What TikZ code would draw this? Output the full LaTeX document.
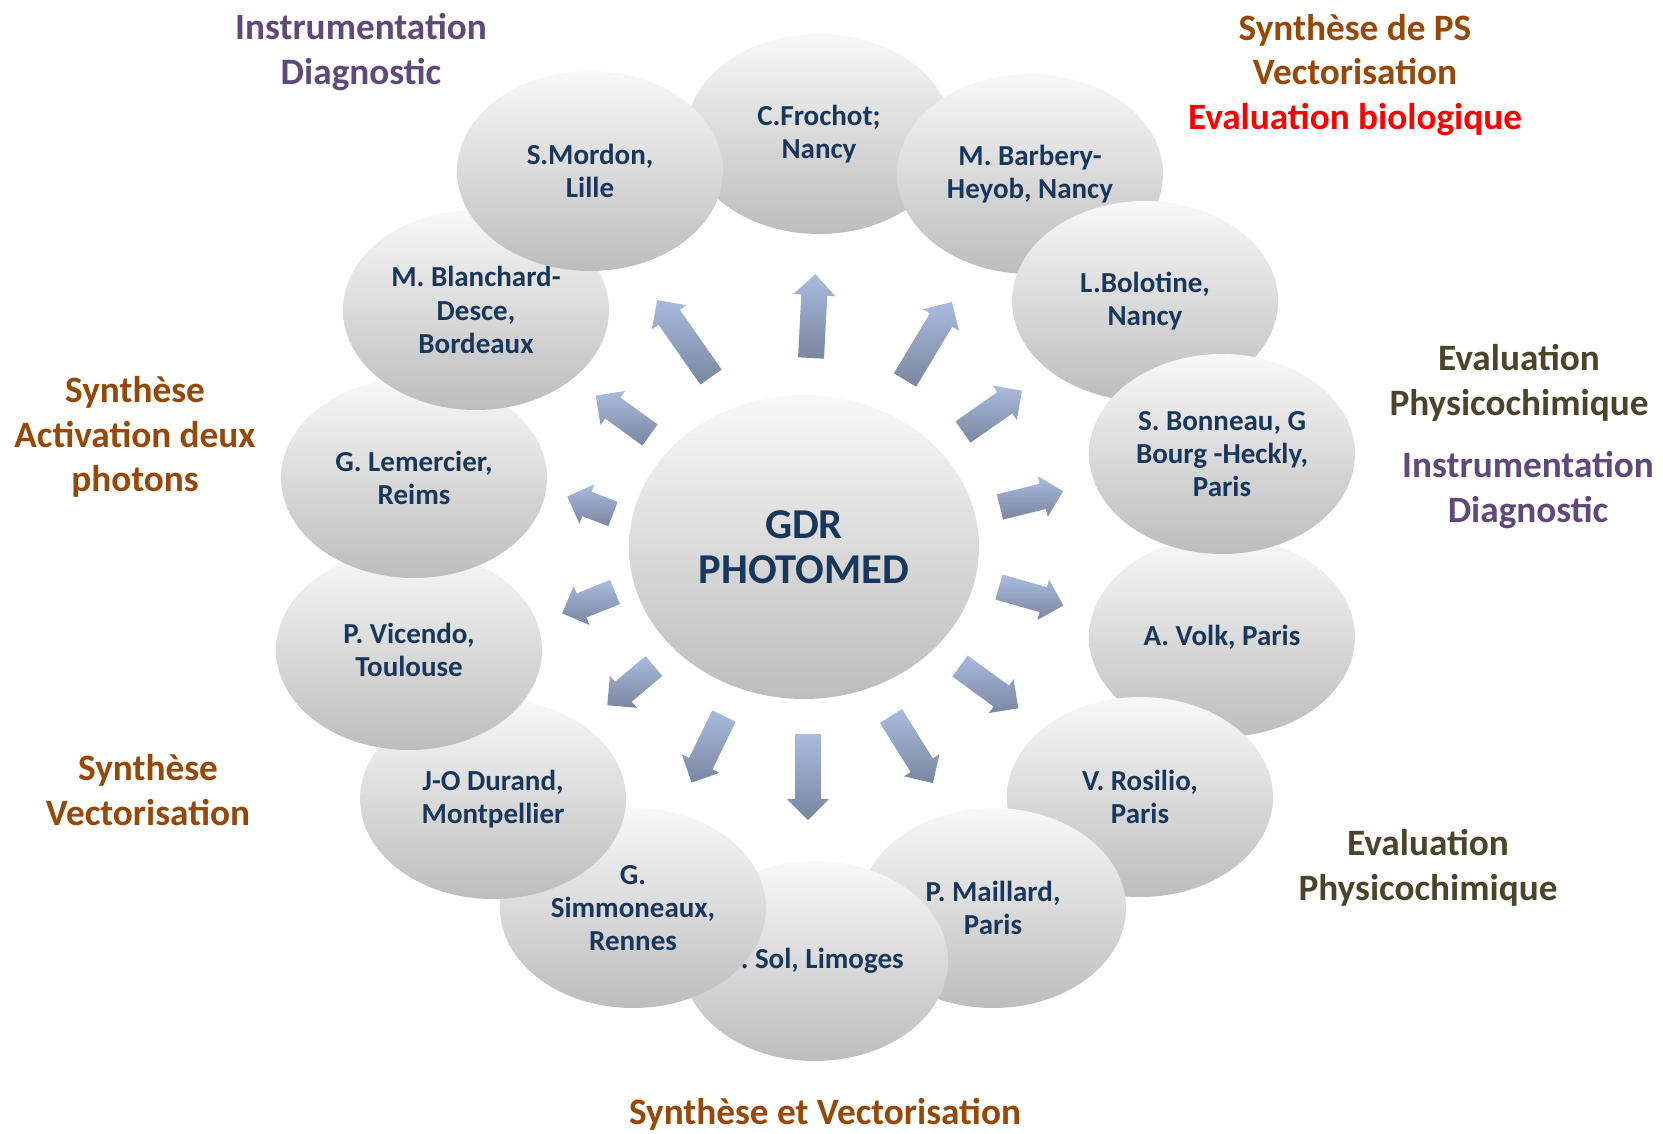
\documentclass[tikz,border=0pt]{standalone}
\usepackage{fontspec}
\setmainfont{Carlito}
\usetikzlibrary{shapes.geometric}

\definecolor{namenavy}{HTML}{17375E}
\definecolor{topicpurple}{HTML}{5F497A}
\definecolor{topicbrown}{HTML}{984806}
\definecolor{topicolive}{HTML}{4A452A}
\definecolor{topicred}{HTML}{FF0000}
\definecolor{bubbletop}{HTML}{F8F8F8}
\definecolor{bubblebot}{HTML}{BDBDBD}
\definecolor{beamtop}{HTML}{A9BBDE}
\definecolor{beambot}{HTML}{7A86A0}

\tikzset{
    bubble/.style={ellipse, inner sep=0pt, minimum width=5.32cm, minimum height=4cm,
        top color=bubbletop, bottom color=bubblebot, align=center, text=namenavy,
        font=\fontsize{16.5}{19}\selectfont\bfseries},
    hub/.style={bubble, minimum width=7cm, minimum height=6.08cm,
        font=\fontsize{24.2}{25.6}\selectfont\bfseries},
    topic/.style={align=center, inner sep=0pt, font=\fontsize{21.2}{25.3}\selectfont\bfseries},
    % block arrow, tail at the origin, pointing along +x
    beam/.pic={
        \shade[top color=beamtop, bottom color=beambot]
            (0,-13) -- (#1-21,-13) -- (#1-21,-21) -- (#1,0) -- (#1-21,21)
            -- (#1-21,13) -- (0,13) -- cycle;
    }
}

\begin{document}
\begin{tikzpicture}[x=0.02cm, y=-0.02cm]
    \useasboundingbox (0,0) rectangle (1663,1133);

    \node[hub] (gdr) at (804,547) {GDR\\PHOTOMED};

    % partner labs, back to front
    \node[bubble] (frochot) at (819,134) {C.Frochot;\\Nancy};
    \node[bubble] (barbery) at (1030,174) {M. Barbery-\\Heyob, Nancy};
    \node[bubble] (bolotine) at (1145,301) {L.Bolotine,\\Nancy};
    \node[bubble] (volk) at (1222,637) {A. Volk, Paris};
    \node[bubble] (bonneau) at (1222,454) {S. Bonneau, G\\Bourg -Heckly,\\Paris};
    \node[bubble] (rosilio) at (1140,797) {V. Rosilio,\\Paris};
    \node[bubble] (maillard) at (993,908) {P. Maillard,\\Paris};
    \node[bubble] (sol) at (815,961) {V. Sol, Limoges};
    \node[bubble] (simmoneaux) at (633,908) {G.\\Simmoneaux,\\Rennes};
    \node[bubble] (durand) at (493,799) {J-O Durand,\\Montpellier};
    \node[bubble] (vicendo) at (409,650) {P. Vicendo,\\Toulouse};
    \node[bubble] (lemercier) at (414,478) {G. Lemercier,\\Reims};
    \node[bubble] (blanchard) at (476,310) {M. Blanchard-\\Desce,\\Bordeaux};
    \node[bubble] (mordon) at (590,171) {S.Mordon,\\Lille};

    % arrows out of the hub: x/y of the tail, angle, length
    \foreach \x/\y/\a/\l in {811/358/87/84, 905/380/59/91, 963/432/35/72,
            1000/507/14/65, 999/587/-16/67, 960/666/-36/72, 891/716/-58/79,
            808/734/-90/86, 724/716/-116/74, 654/666/-140/61, 615/592/-158/57,
            613/514/159/49, 650/435/144/67, 711/377/125/94}
        \pic[rotate=\a] at (\x,\y) {beam=\l};

    % research topics
    \node[topic, text=topicpurple] (instrtop) at (361,52) {Instrumentation\\Diagnostic};
    \node[topic, text=topicbrown] (synthps) at (1355,75)
        {Synthèse de PS\\Vectorisation\\\textcolor{topicred}{Evaluation biologique}};
    \node[topic, text=topicolive] (physright) at (1519,383) {Evaluation\\Physicochimique};
    \node[topic, text=topicpurple] (instrright) at (1528,490) {Instrumentation\\Diagnostic};
    \node[topic, text=topicbrown] (synthtwo) at (135,437) {Synthèse\\Activation deux\\photons};
    \node[topic, text=topicbrown] (synthvect) at (148,790) {Synthèse\\Vectorisation};
    \node[topic, text=topicolive] (physbottom) at (1428,868) {Evaluation\\Physicochimique};
    \node[topic, text=topicbrown] (synthbottom) at (825,1114) {Synthèse et Vectorisation};
\end{tikzpicture}
\end{document}
